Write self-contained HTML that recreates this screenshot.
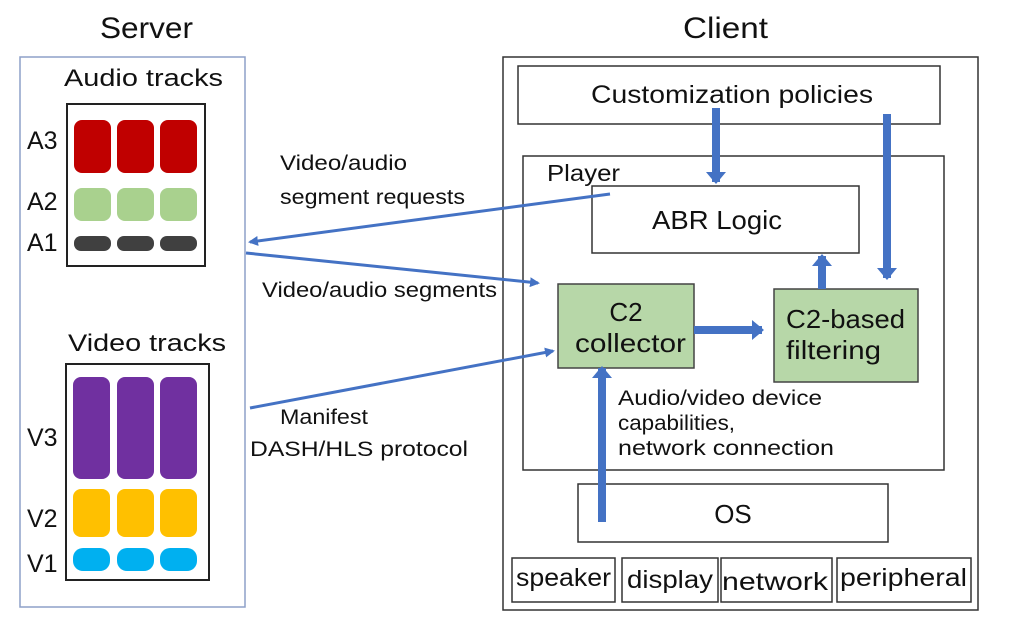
<!DOCTYPE html>
<html><head><meta charset="utf-8"><style>
html,body{margin:0;padding:0;background:#fff;}
svg{display:block;font-family:"Liberation Sans",sans-serif;}
</style></head><body>
<svg width="1023" height="618" viewBox="0 0 1023 618" xmlns="http://www.w3.org/2000/svg">
<defs>
<marker id="ah" markerWidth="10" markerHeight="10" refX="8" refY="5" orient="auto" markerUnits="userSpaceOnUse"><path d="M0,0 L10,5 L0,10 z" fill="#4472c4"/></marker>
<marker id="bh" markerWidth="22" markerHeight="22" refX="10" refY="11" orient="auto" markerUnits="userSpaceOnUse"><path d="M0,1 L12,11 L0,21 z" fill="#4472c4"/></marker>
</defs>
<text x="100" y="38" font-size="30" fill="#111" textLength="93" lengthAdjust="spacingAndGlyphs">Server</text>
<text x="683" y="38" font-size="30" fill="#111" textLength="85" lengthAdjust="spacingAndGlyphs">Client</text>
<rect x="20" y="57" width="225" height="550" fill="none" stroke="#8ea0c8" stroke-width="1.5"/>
<text x="64" y="86" font-size="24" fill="#111" textLength="159" lengthAdjust="spacingAndGlyphs">Audio tracks</text>
<rect x="67" y="104" width="138" height="162" fill="none" stroke="#222" stroke-width="2"/>
<g font-size="25" fill="#111"><text x="27" y="149">A3</text><text x="27" y="210">A2</text><text x="27" y="251">A1</text></g>
<g fill="#c00000"><rect x="74" y="120" width="37" height="53" rx="8"/><rect x="117" y="120" width="37" height="53" rx="8"/><rect x="160" y="120" width="37" height="53" rx="8"/></g>
<g fill="#a9d18e"><rect x="74" y="188" width="37" height="33" rx="8"/><rect x="117" y="188" width="37" height="33" rx="8"/><rect x="160" y="188" width="37" height="33" rx="8"/></g>
<g fill="#404040"><rect x="74" y="236" width="37" height="15" rx="7"/><rect x="117" y="236" width="37" height="15" rx="7"/><rect x="160" y="236" width="37" height="15" rx="7"/></g>
<text x="68" y="351" font-size="24" fill="#111" textLength="158" lengthAdjust="spacingAndGlyphs">Video tracks</text>
<rect x="66" y="364" width="143" height="216" fill="none" stroke="#222" stroke-width="2"/>
<g font-size="25" fill="#111"><text x="27" y="446">V3</text><text x="27" y="527">V2</text><text x="27" y="572">V1</text></g>
<g fill="#7030a0"><rect x="73" y="377" width="37" height="102" rx="8"/><rect x="117" y="377" width="37" height="102" rx="8"/><rect x="160" y="377" width="37" height="102" rx="8"/></g>
<g fill="#ffc000"><rect x="73" y="489" width="37" height="48" rx="8"/><rect x="117" y="489" width="37" height="48" rx="8"/><rect x="160" y="489" width="37" height="48" rx="8"/></g>
<g fill="#00b0f0"><rect x="73" y="548" width="37" height="23" rx="10"/><rect x="117" y="548" width="37" height="23" rx="10"/><rect x="160" y="548" width="37" height="23" rx="10"/></g>

<rect x="503" y="57" width="475" height="553" fill="none" stroke="#333" stroke-width="1.5"/>
<rect x="518" y="66" width="422" height="58" fill="#fff" stroke="#333" stroke-width="1.5"/>
<text x="591" y="103" font-size="25" fill="#111" textLength="282" lengthAdjust="spacingAndGlyphs">Customization policies</text>
<rect x="523" y="156" width="421" height="314" fill="none" stroke="#333" stroke-width="1.5"/>
<text x="547" y="181" font-size="23" fill="#111" textLength="73" lengthAdjust="spacingAndGlyphs">Player</text>
<rect x="592" y="186" width="267" height="67" fill="#fff" stroke="#333" stroke-width="1.5"/>
<text x="652" y="229" font-size="26" fill="#111" textLength="130" lengthAdjust="spacingAndGlyphs">ABR Logic</text>
<rect x="558" y="284" width="136" height="84" fill="#b7d7a8" stroke="#444" stroke-width="1.5"/>
<text x="626" y="321" font-size="26" fill="#111" text-anchor="middle">C2</text>
<text x="575" y="352" font-size="26" fill="#111" textLength="111" lengthAdjust="spacingAndGlyphs">collector</text>
<rect x="774" y="289" width="144" height="93" fill="#b7d7a8" stroke="#444" stroke-width="1.5"/>
<text x="786" y="328" font-size="26" fill="#111" textLength="119" lengthAdjust="spacingAndGlyphs">C2-based</text>
<text x="786" y="359" font-size="26" fill="#111" textLength="95" lengthAdjust="spacingAndGlyphs">filtering</text>
<g font-size="21" fill="#111"><text x="618" y="405" textLength="204" lengthAdjust="spacingAndGlyphs">Audio/video device</text><text x="618" y="430" textLength="117" lengthAdjust="spacingAndGlyphs">capabilities,</text><text x="618" y="455" textLength="216" lengthAdjust="spacingAndGlyphs">network connection</text></g>
<rect x="578" y="484" width="310" height="58" fill="#fff" stroke="#333" stroke-width="1.5"/>
<text x="733" y="523" font-size="26" fill="#111" text-anchor="middle">OS</text>
<g fill="none" stroke="#333" stroke-width="1.5">
<rect x="512" y="558" width="103" height="44"/><rect x="622" y="558" width="96" height="44"/><rect x="721" y="558" width="111" height="44"/><rect x="837" y="558" width="134" height="44"/></g>
<g font-size="25" fill="#111"><text x="516" y="586" textLength="95" lengthAdjust="spacingAndGlyphs">speaker</text><text x="627" y="588" textLength="86" lengthAdjust="spacingAndGlyphs">display</text><text x="722" y="590" textLength="106" lengthAdjust="spacingAndGlyphs">network</text><text x="840" y="586" textLength="127" lengthAdjust="spacingAndGlyphs">peripheral</text></g>

<g stroke="#4472c4" stroke-width="8" fill="none">
<line x1="716" y1="108" x2="716" y2="182" marker-end="url(#bh)"/>
<line x1="887" y1="114" x2="887" y2="278" marker-end="url(#bh)"/>
<line x1="822" y1="289" x2="822" y2="256" marker-end="url(#bh)"/>
<line x1="694" y1="330" x2="762" y2="330" marker-end="url(#bh)"/>
<line x1="602" y1="522" x2="602" y2="368" marker-end="url(#bh)"/>
</g>
<g stroke="#4472c4" stroke-width="3" fill="none">
<line x1="610" y1="194" x2="250" y2="242" marker-end="url(#ah)"/>
<line x1="246" y1="253" x2="538" y2="283" marker-end="url(#ah)"/>
<line x1="250" y1="408" x2="553" y2="351" marker-end="url(#ah)"/>
</g>
<g font-size="21" fill="#111">
<text x="280" y="170" textLength="127" lengthAdjust="spacingAndGlyphs">Video/audio</text><text x="280" y="204" textLength="185" lengthAdjust="spacingAndGlyphs">segment requests</text>
<text x="262" y="297" textLength="235" lengthAdjust="spacingAndGlyphs">Video/audio segments</text>
<text x="280" y="424" textLength="88" lengthAdjust="spacingAndGlyphs">Manifest</text><text x="250" y="456" textLength="218" lengthAdjust="spacingAndGlyphs">DASH/HLS protocol</text>
</g>
</svg>
</body></html>
